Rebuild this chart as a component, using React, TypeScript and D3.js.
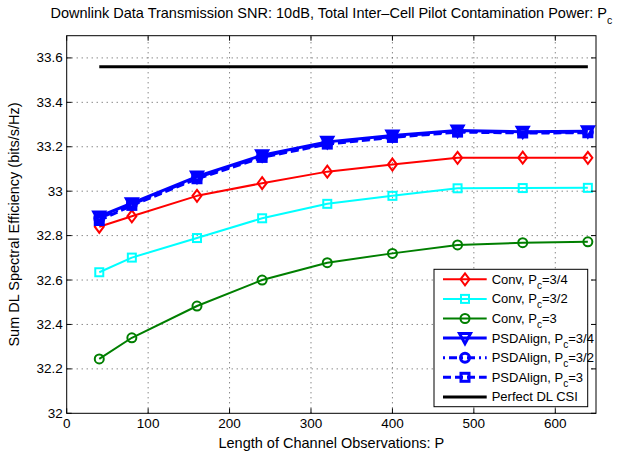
import React, { useRef, useEffect } from 'react';
import * as d3 from 'd3';

// Channel observation lengths P
const xValues = [40, 80, 160, 240, 320, 400, 480, 560, 640];

const convQuarter = [32.84, 32.887, 32.979, 33.036, 33.088, 33.12, 33.15, 33.151, 33.15];
const convHalf = [32.635, 32.701, 32.789, 32.878, 32.943, 32.979, 33.013, 33.014, 33.015];
const convThree = [32.245, 32.34, 32.483, 32.6, 32.678, 32.72, 32.758, 32.768, 32.772];
const psdQuarter = [32.886, 32.946, 33.066, 33.162, 33.222, 33.251, 33.273, 33.268, 33.27];
const psdHalf = [32.878, 32.941, 33.061, 33.157, 33.217, 33.246, 33.27, 33.265, 33.266];
const psdThree = [32.868, 32.936, 33.056, 33.152, 33.212, 33.242, 33.266, 33.262, 33.263];
const perfectX = [40, 640];
const perfectCsi = [33.56, 33.56];

const xTicks = [0, 100, 200, 300, 400, 500, 600];
const yTicks = [32, 32.2, 32.4, 32.6, 32.8, 33, 33.2, 33.4, 33.6];

const series = [
  { name: 'Conv, ', sub: 'c', rest: '=3/4', xs: xValues, ys: convQuarter, color: '#ff0000', width: 2, dash: null, marker: 'diamond' },
  { name: 'Conv, ', sub: 'c', rest: '=3/2', xs: xValues, ys: convHalf, color: '#00ffff', width: 2, dash: null, marker: 'square' },
  { name: 'Conv, ', sub: 'c', rest: '=3', xs: xValues, ys: convThree, color: '#007f00', width: 2, dash: null, marker: 'circle' },
  { name: 'PSDAlign, ', sub: 'c', rest: '=3/4', xs: xValues, ys: psdQuarter, color: '#0000ff', width: 3, dash: null, marker: 'triangle' },
  { name: 'PSDAlign, ', sub: 'c', rest: '=3/2', xs: xValues, ys: psdHalf, color: '#0000ff', width: 3, dash: '2,4,8,4', marker: 'circle' },
  { name: 'PSDAlign, ', sub: 'c', rest: '=3', xs: xValues, ys: psdThree, color: '#0000ff', width: 3, dash: '8,4', marker: 'square' },
  { name: 'Perfect DL CSI', sub: null, rest: '', xs: perfectX, ys: perfectCsi, color: '#000000', width: 3, dash: null, marker: null },
];

const FONT = 'Liberation Sans, Arial, Helvetica, sans-serif';

const drawMarker = (g, type, cx, cy, color, sw) => {
  if (type === 'diamond') {
    g.append('path')
      .attr('d', `M${cx},${cy - 6}L${cx + 4.5},${cy}L${cx},${cy + 6}L${cx - 4.5},${cy}Z`)
      .attr('fill', 'none').attr('stroke', color).attr('stroke-width', sw);
  } else if (type === 'square') {
    g.append('rect')
      .attr('x', cx - 4).attr('y', cy - 4).attr('width', 8).attr('height', 8)
      .attr('fill', 'none').attr('stroke', color).attr('stroke-width', sw);
  } else if (type === 'circle') {
    g.append('circle')
      .attr('cx', cx).attr('cy', cy).attr('r', 4.5)
      .attr('fill', 'none').attr('stroke', color).attr('stroke-width', sw);
  } else if (type === 'triangle') {
    g.append('path')
      .attr('d', `M${cx - 5.5},${cy - 4.5}L${cx + 5.5},${cy - 4.5}L${cx},${cy + 5.5}Z`)
      .attr('fill', 'none').attr('stroke', color).attr('stroke-width', sw);
  }
};

const App = () => {
  const svgRef = useRef(null);

  useEffect(() => {
    const width = 637;
    const height = 452;
    const margin = { top: 35.7, right: 41, bottom: 38.7, left: 66.7 };

    const svg = d3.select(svgRef.current)
      .attr('width', width)
      .attr('height', height);

    svg.selectAll('*').remove();

    svg.append('rect').attr('width', width).attr('height', height).attr('fill', '#fff');

    const x = d3.scaleLinear()
      .domain([0, 650])
      .range([margin.left, width - margin.right]);

    const y = d3.scaleLinear()
      .domain([32, 33.7])
      .range([height - margin.bottom, margin.top]);

    const [x0, x1] = x.range();
    const [y0, y1] = y.range();

    // dotted grid
    const grid = svg.append('g').attr('stroke', '#555').attr('stroke-width', 1).attr('stroke-dasharray', '1,4');
    xTicks.slice(1).forEach(t => {
      grid.append('line').attr('x1', x(t)).attr('x2', x(t)).attr('y1', y0).attr('y2', y1);
    });
    yTicks.slice(1).forEach(t => {
      grid.append('line').attr('x1', x0).attr('x2', x1).attr('y1', y(t)).attr('y2', y(t));
    });

    // series lines
    const line = d3.line()
      .x(d => x(d[0]))
      .y(d => y(d[1]));

    series.forEach(s => {
      const pts = s.xs.map((v, i) => [v, s.ys[i]]);
      svg.append('path')
        .datum(pts)
        .attr('fill', 'none')
        .attr('stroke', s.color)
        .attr('stroke-width', s.width)
        .attr('stroke-dasharray', s.dash)
        .attr('stroke-linejoin', 'round')
        .attr('d', line);
      if (s.marker) {
        const mg = svg.append('g');
        pts.forEach(p => drawMarker(mg, s.marker, x(p[0]), y(p[1]), s.color, s.width));
      }
    });

    // axes box and ticks
    const axes = svg.append('g').attr('stroke', '#000').attr('stroke-width', 1);
    axes.append('rect')
      .attr('x', x0).attr('y', y1).attr('width', x1 - x0).attr('height', y0 - y1)
      .attr('fill', 'none');
    xTicks.forEach(t => {
      axes.append('line').attr('x1', x(t)).attr('x2', x(t)).attr('y1', y0).attr('y2', y0 - 5);
      axes.append('line').attr('x1', x(t)).attr('x2', x(t)).attr('y1', y1).attr('y2', y1 + 5);
    });
    yTicks.forEach(t => {
      axes.append('line').attr('x1', x0).attr('x2', x0 + 5).attr('y1', y(t)).attr('y2', y(t));
      axes.append('line').attr('x1', x1).attr('x2', x1 - 5).attr('y1', y(t)).attr('y2', y(t));
    });

    const labels = svg.append('g').attr('font-family', FONT).attr('font-size', 13.5).attr('fill', '#000');
    xTicks.forEach(t => {
      labels.append('text')
        .attr('x', x(t)).attr('y', y0 + 14.5)
        .attr('text-anchor', 'middle')
        .text(t);
    });
    yTicks.forEach(t => {
      labels.append('text')
        .attr('x', x0 - 4).attr('y', y(t) + 4.5)
        .attr('text-anchor', 'end')
        .text(d3.format('~g')(t));
    });

    // title
    const title = labels.append('text')
      .attr('x', (x0 + x1) / 2).attr('y', 18)
      .attr('font-size', 14.5)
      .attr('text-anchor', 'middle');
    title.append('tspan').text('Downlink Data Transmission SNR: 10dB, Total Inter\u2013Cell Pilot Contamination Power: P');
    title.append('tspan').attr('font-size', 10.5).attr('dy', 6).text('c');

    labels.append('text')
      .attr('x', (x0 + x1) / 2).attr('y', height - 4)
      .attr('font-size', 14.5)
      .attr('text-anchor', 'middle')
      .text('Length of Channel Observations: P');

    labels.append('text')
      .attr('transform', `translate(19,${(y0 + y1) / 2}) rotate(-90)`)
      .attr('font-size', 14.5)
      .attr('text-anchor', 'middle')
      .text('Sum DL Spectral Efficiency (bits/s/Hz)');

    // legend
    const legend = svg.append('g').attr('transform', 'translate(434,269.3)');
    legend.append('rect')
      .attr('width', 153.7).attr('height', 137.4)
      .attr('fill', '#fff').attr('stroke', '#000').attr('stroke-width', 1);
    series.forEach((s, i) => {
      const cy = 10 + i * 19.6;
      legend.append('line')
        .attr('x1', 9).attr('x2', 52.7).attr('y1', cy).attr('y2', cy)
        .attr('stroke', s.color).attr('stroke-width', s.width)
        .attr('stroke-dasharray', s.dash);
      if (s.marker) drawMarker(legend, s.marker, 31, cy, s.color, s.width);
      const t = legend.append('text')
        .attr('x', 57.7).attr('y', cy + 4.5)
        .attr('font-family', FONT).attr('font-size', 13);
      if (s.sub) {
        t.append('tspan').text(s.name + 'P');
        t.append('tspan').attr('font-size', 10).attr('dy', 5).text(s.sub);
        t.append('tspan').attr('dy', -5).text(s.rest);
      } else {
        t.text(s.name);
      }
    });
  }, []);

  return (
    <div style={{ position: 'absolute', left: 0, top: 0 }}>
      <svg ref={svgRef}></svg>
    </div>
  );
};

export default App;
